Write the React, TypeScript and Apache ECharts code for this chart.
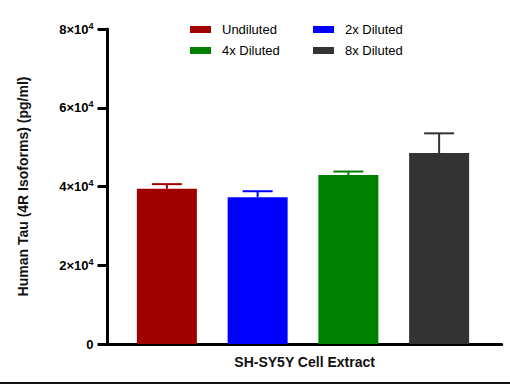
import React, { useEffect, useRef } from "react";
import * as echarts from "echarts";

const categories = ["SH-SY5Y Cell Extract"];
const seriesNames = ["Undiluted", "2x Diluted", "4x Diluted", "8x Diluted"];
const means = [39400, 37300, 42900, 48500];
const upperErrors = [1200, 1500, 900, 5000];
const colors = ["#a00000", "#0000ff", "#008000", "#333333"];
const yMin = 0;
const yMax = 80000;
const yInterval = 20000;
const yTitle = "Human Tau (4R Isoforms) (pg/ml)";

const FONT = "'Liberation Sans', Arial, Helvetica, sans-serif";

export default function App() {
  const ref = useRef<HTMLDivElement>(null);
  useEffect(() => {
    if (!ref.current) return;
    const chart = echarts.init(ref.current, null, { renderer: "svg" });
    const legendCommon = {
      orient: "vertical" as const,
      top: 23,
      padding: 0,
      itemWidth: 21,
      itemHeight: 7,
      itemGap: 8,
      icon: "rect",
      textStyle: { fontSize: 13, color: "#000", fontFamily: FONT, padding: [0, 0, 0, 6] },
    };
    chart.setOption({
      animation: false,
      textStyle: { fontFamily: FONT },
      legend: [
        { ...legendCommon, left: 190, data: [seriesNames[0], seriesNames[2]] },
        { ...legendCommon, left: 313, data: [seriesNames[1], seriesNames[3]] },
      ],
      grid: [
        { left: 107.5, right: 8.3, top: 29, bottom: 40, containLabel: false },
        { left: 121.5, width: 363, top: 29, bottom: 40, containLabel: false },
      ],
      xAxis: [
        {
          type: "category",
          gridIndex: 0,
          data: categories,
          axisLine: { lineStyle: { color: "#000", width: 3 } },
          axisTick: { alignWithLabel: true, length: 4, lineStyle: { color: "#000", width: 2 } },
          axisLabel: { fontSize: 14, fontWeight: "bold", color: "#111", margin: 11, fontFamily: FONT },
        },
        { type: "category", gridIndex: 1, data: seriesNames, show: false },
      ],
      yAxis: [
        {
          type: "value",
          gridIndex: 0,
          min: yMin,
          max: yMax,
          interval: yInterval,
          splitLine: { show: false },
          axisLine: { show: true, lineStyle: { color: "#000", width: 3 } },
          axisTick: { show: true, length: 10, lineStyle: { color: "#000", width: 3 } },
          axisLabel: {
            margin: 14,
            formatter: (v: number) => (v === 0 ? "{a|0}" : `{a|${v / 10000}×10}{s|4}`),
            rich: {
              a: { fontSize: 13, fontWeight: "bold", color: "#000", fontFamily: FONT, lineHeight: 16 },
              s: { fontSize: 9, fontWeight: "bold", color: "#000", fontFamily: FONT, verticalAlign: "top", lineHeight: 16 },
            },
          },
          name: yTitle,
          nameLocation: "middle",
          nameGap: 78,
          nameTextStyle: { fontSize: 14, fontWeight: "bold", color: "#111", fontFamily: FONT },
        },
        { type: "value", gridIndex: 1, min: yMin, max: yMax, show: false },
      ],
      series: [
        ...seriesNames.map((name, i) => ({
          type: "bar",
          name,
          xAxisIndex: 1,
          yAxisIndex: 1,
          stack: "all",
          barWidth: 60,
          itemStyle: { color: colors[i] },
          data: seriesNames.map((_, j) => (j === i ? means[i] : "-")),
        })),
        {
          type: "custom",
          xAxisIndex: 1,
          yAxisIndex: 1,
          z: 5,
          encode: { x: 0, y: [1, 2] },
          data: means.map((m, i) => [i, m, m + upperErrors[i]]),
          renderItem: (_params: any, api: any) => {
            const i = api.value(0);
            const base = api.coord([i, api.value(1)]);
            const top = api.coord([i, api.value(2)]);
            const c = colors[i];
            return {
              type: "group",
              children: [
                { type: "line", shape: { x1: base[0], y1: base[1], x2: top[0], y2: top[1] }, style: { stroke: c, lineWidth: 2 } },
                { type: "line", shape: { x1: top[0] - 15, y1: top[1], x2: top[0] + 15, y2: top[1] }, style: { stroke: c, lineWidth: 2 } },
              ],
            };
          },
        },
      ],
      graphic: [
        { type: "rect", left: 0, top: 382, shape: { width: 510, height: 2 }, style: { fill: "#111" } },
      ],
    });
    return () => chart.dispose();
  }, []);
  return <div ref={ref} style={{ position: "absolute", left: 0, top: 0, width: 510, height: 384 }} />;
}
